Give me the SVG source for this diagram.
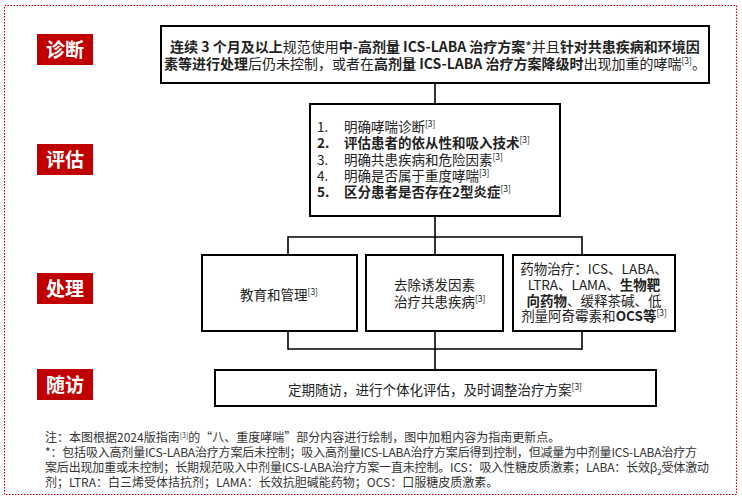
<svg xmlns="http://www.w3.org/2000/svg" width="742" height="500" viewBox="0 0 742 500">
<style>
text{font-family:"Noto Sans CJK SC","Noto Sans",sans-serif;fill:#222;}
.lbl rect{fill:#C00000;}
.lbl text{fill:#fff;font-weight:bold;font-size:19px;text-anchor:middle;}
.box{fill:#fff;stroke:#000;stroke-width:2;}
.t{font-size:13.5px;}
.b{font-weight:bold;}
.sup{font-size:8.5px;}
.note{font-size:12px;fill:#333;}
#connectors line{stroke:#000;stroke-width:1.6;}
</style>
<rect x="4.5" y="5.5" width="732" height="489" fill="none" stroke="#C00000" stroke-width="1.2" stroke-dasharray="1.5 1.5"/>

<g id="label-diagnosis" class="lbl"><rect x="37" y="34" width="56" height="31"/><text x="65" y="56.5">诊断</text></g>
<g id="label-assess" class="lbl"><rect x="37" y="144" width="56" height="31"/><text x="65" y="166.5">评估</text></g>
<g id="label-treat" class="lbl"><rect x="37" y="273" width="56" height="31"/><text x="65" y="295.5">处理</text></g>
<g id="label-follow" class="lbl"><rect x="37" y="369" width="56" height="31"/><text x="65" y="391.5">随访</text></g>

<g id="connectors">
<line x1="435" y1="83" x2="435" y2="104"/>
<line x1="435" y1="216" x2="435" y2="237"/>
<line x1="288" y1="237" x2="582" y2="237"/>
<line x1="288" y1="236.2" x2="288" y2="255"/>
<line x1="582" y1="236.2" x2="582" y2="255"/>
<line x1="435" y1="237" x2="435" y2="255"/>
<line x1="288" y1="331" x2="288" y2="349.8"/>
<line x1="582" y1="331" x2="582" y2="349.8"/>
<line x1="435" y1="331" x2="435" y2="349"/>
<line x1="288" y1="349" x2="582" y2="349"/>
<line x1="435" y1="349" x2="435" y2="370"/>
</g>

<g id="node-diagnosis">
<rect class="box" x="161" y="26" width="548" height="57"/>
<text x="435" y="52" font-size="14" text-anchor="middle"><tspan class="b">连续 3 个月及以上</tspan>规范使用<tspan class="b">中-高剂量 ICS-LABA 治疗方案</tspan>*并且<tspan class="b">针对共患疾病和环境因</tspan></text>
<text x="435" y="69" font-size="14" text-anchor="middle"><tspan class="b">素等进行处理</tspan>后仍未控制，或者在<tspan class="b">高剂量 ICS-LABA 治疗方案降级时</tspan>出现加重的哮喘<tspan class="sup" dy="-5">[3]</tspan><tspan dy="5">。</tspan></text>
</g>

<g id="node-assess">
<rect class="box" x="310" y="104" width="250" height="112"/>
<text class="t" x="317" y="132">1.</text><text class="t" x="344" y="132">明确哮喘诊断<tspan class="sup" dy="-5">[3]</tspan></text>
<text class="t b" x="317" y="148">2.</text><text class="t" x="344" y="148"><tspan class="b">评估患者的依从性和吸入技术</tspan><tspan class="sup" dy="-5">[3]</tspan></text>
<text class="t" x="317" y="164.5">3.</text><text class="t" x="344" y="164.5">明确共患疾病和危险因素<tspan class="sup" dy="-5">[3]</tspan></text>
<text class="t" x="317" y="180.5">4.</text><text class="t" x="344" y="180.5">明确是否属于重度哮喘<tspan class="sup" dy="-5">[3]</tspan></text>
<text class="t b" x="317" y="197">5.</text><text class="t" x="344" y="197"><tspan class="b">区分患者是否存在2型炎症</tspan><tspan class="sup" dy="-5">[3]</tspan></text>
</g>

<g id="node-edu">
<rect class="box" x="202" y="255" width="155" height="76"/>
<text class="t" x="279" y="299.5" text-anchor="middle">教育和管理<tspan class="sup" dy="-5">[3]</tspan></text>
</g>

<g id="node-remove">
<rect class="box" x="366" y="255" width="137" height="76"/>
<text class="t" x="394" y="290">去除诱发因素</text>
<text class="t" x="394" y="307">治疗共患疾病<tspan class="sup" dy="-5">[3]</tspan></text>
</g>

<g id="node-drug">
<rect class="box" x="513" y="255" width="162" height="76"/>
<text class="t" x="594" y="274" text-anchor="middle">药物治疗：ICS、LABA、</text>
<text class="t" x="594" y="290" text-anchor="middle">LTRA、LAMA、<tspan class="b">生物靶</tspan></text>
<text class="t" x="594" y="305.5" text-anchor="middle"><tspan class="b">向药物</tspan>、缓释茶碱、低</text>
<text class="t" x="594" y="321" text-anchor="middle">剂量阿奇霉素和<tspan class="b">OCS等</tspan><tspan class="sup" dy="-5">[3]</tspan></text>
</g>

<g id="node-follow">
<rect class="box" x="215" y="370" width="441" height="36" stroke-width="1.6"/>
<text class="t" x="435" y="394.5" text-anchor="middle">定期随访，进行个体化评估，及时调整治疗方案<tspan class="sup" dy="-5">[3]</tspan></text>
</g>

<g id="notes">
<text class="note" x="45" y="442">注：本图根据2024版指南<tspan font-size="7" dy="-4">[3]</tspan><tspan dy="4">的“八、重度哮喘”部分内容进行绘制，图中加粗内容为指南更新点。</tspan></text>
<text class="note" x="45" y="457" textLength="652" lengthAdjust="spacing">*：包括吸入高剂量ICS-LABA治疗方案后未控制；吸入高剂量ICS-LABA治疗方案后得到控制，但减量为中剂量ICS-LABA治疗方</text>
<text class="note" x="45" y="472" textLength="664" lengthAdjust="spacing">案后出现加重或未控制；长期规范吸入中剂量ICS-LABA治疗方案一直未控制。ICS：吸入性糖皮质激素；LABA：长效β<tspan font-size="8" dy="3">2</tspan><tspan dy="-3">受体激动</tspan></text>
<text class="note" x="45" y="487">剂；LTRA：白三烯受体拮抗剂；LAMA：长效抗胆碱能药物；OCS：口服糖皮质激素。</text>
</g>
</svg>
